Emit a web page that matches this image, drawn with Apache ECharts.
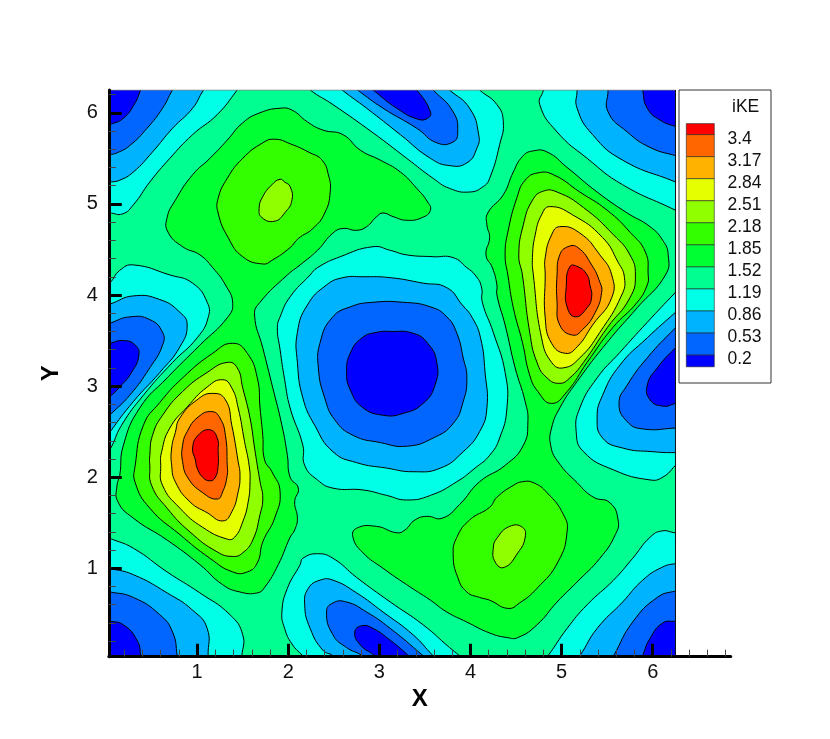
<!DOCTYPE html>
<html><head><meta charset="utf-8"><style>html,body{margin:0;background:#fff}#c{width:830px;height:739px}</style>
<script src="https://cdn.jsdelivr.net/npm/echarts@6/dist/echarts.min.js"></script></head><body><div id="c"></div>
<script>
const levelLabels=['0.2','0.53','0.86','1.19','1.52','1.85','2.18','2.51','2.84','3.17','3.4'];
const bandColors=['#0000ff','#0066ff','#00b3ff','#00ffe6','#00ff90','#00ff33','#33ff00','#90ff00','#e6ff00','#ffb300','#ff6600','#ff0000'];
const xMajor=[1,2,3,4,5,6];
const yMajor=[1,2,3,4,5,6];
const xMinor=[0.2,0.4,0.6,0.8,1.2,1.4,1.6,1.8,2.2,2.4,2.6,2.8,3.2,3.4,3.6,3.8,4.2,4.4,4.6,4.8,5.2,5.4,5.6,5.8,6.2,6.4,6.6,6.8];
const yMinor=[0.2,0.4,0.6,0.8,1.2,1.4,1.6,1.8,2.2,2.4,2.6,2.8,3.2,3.4,3.6,3.8,4.2,4.4,4.6,4.8,5.2,5.4,5.6,5.8,6.2];
const domain=[0.03,6.25];

const ridgeWest_152=[[1.91,6.05],[2.04,6.03],[2.21,5.90],[2.38,5.81],[2.60,5.76],[2.79,5.59],[3.01,5.48],[3.23,5.35],[3.41,5.17],[3.53,5.02],[3.56,4.93],[3.47,4.85],[3.30,4.82],[3.15,4.86],[3.04,4.90],[2.97,4.86],[2.86,4.75],[2.75,4.71],[2.60,4.73],[2.49,4.68],[2.32,4.49],[2.13,4.33],[1.99,4.22],[1.69,3.92],[1.63,3.78],[1.72,3.42],[1.83,2.98],[1.93,2.57],[1.99,2.24],[2.02,2.00],[2.11,1.88],[2.07,1.73],[2.10,1.55],[2.07,1.42],[2.02,1.34],[1.89,1.04],[1.74,0.79],[1.66,0.73],[1.47,0.74],[1.28,0.82],[1.03,1.04],[0.67,1.31],[0.30,1.55],[0.13,1.73],[0.12,1.91],[0.15,2.02],[0.19,2.35],[0.37,2.76],[0.67,3.09],[1.03,3.45],[1.33,3.75],[1.39,3.91],[1.31,4.11],[1.17,4.30],[1.03,4.44],[0.84,4.53],[0.68,4.69],[0.67,4.85],[0.76,5.04],[0.95,5.32],[1.14,5.50],[1.33,5.70],[1.50,5.89],[1.69,6.00]];
const ridgeEast_152=[[4.68,5.58],[4.84,5.57],[5.06,5.40],[5.39,5.13],[5.72,4.90],[5.97,4.75],[6.11,4.60],[6.17,4.44],[6.14,4.22],[5.83,3.86],[5.50,3.48],[5.17,3.05],[4.98,2.76],[4.89,2.54],[4.88,2.35],[4.96,2.17],[5.17,1.94],[5.35,1.78],[5.53,1.72],[5.62,1.53],[5.59,1.37],[5.42,1.11],[5.17,0.85],[4.95,0.63],[4.73,0.38],[4.52,0.24],[4.40,0.24],[4.21,0.29],[3.96,0.41],[3.74,0.52],[3.56,0.65],[3.30,0.82],[3.04,1.00],[2.82,1.17],[2.71,1.34],[2.75,1.44],[2.97,1.46],[3.19,1.39],[3.28,1.42],[3.39,1.53],[3.52,1.57],[3.69,1.55],[3.88,1.70],[4.10,1.95],[4.38,2.13],[4.58,2.35],[4.63,2.61],[4.60,2.83],[4.49,3.20],[4.38,3.67],[4.29,4.00],[4.29,4.11],[4.24,4.30],[4.17,4.44],[4.21,4.63],[4.18,4.77],[4.19,4.90],[4.36,5.10],[4.47,5.35],[4.57,5.52]];
const hillC_185=[[1.85,5.71],[2.02,5.66],[2.24,5.56],[2.37,5.48],[2.44,5.32],[2.46,5.13],[2.40,4.90],[2.27,4.73],[2.11,4.62],[2.02,4.52],[1.82,4.38],[1.72,4.34],[1.50,4.42],[1.34,4.63],[1.23,4.90],[1.23,5.06],[1.33,5.28],[1.50,5.50],[1.72,5.67]];
const hillC_218=[[1.91,5.27],[1.82,5.21],[1.72,5.08],[1.68,4.95],[1.71,4.85],[1.85,4.81],[1.96,4.90],[2.04,5.04],[2.02,5.19],[1.96,5.24]];
const hillA_185=[[1.39,3.47],[1.55,3.36],[1.66,3.09],[1.69,2.76],[1.72,2.46],[1.74,2.19],[1.82,2.06],[1.91,1.84],[1.85,1.55],[1.72,1.29],[1.66,1.06],[1.55,0.96],[1.39,0.96],[1.14,1.11],[0.81,1.37],[0.48,1.66],[0.32,1.94],[0.32,2.13],[0.41,2.57],[0.59,2.82],[0.84,3.09],[1.17,3.36]];
const hillA_218=[[1.33,3.26],[1.44,3.20],[1.50,2.98],[1.58,2.65],[1.63,2.32],[1.66,2.13],[1.69,1.95],[1.72,1.77],[1.69,1.59],[1.61,1.31],[1.50,1.17],[1.39,1.13],[1.22,1.18],[0.92,1.40],[0.67,1.66],[0.50,1.91],[0.48,2.13],[0.48,2.24],[0.51,2.46],[0.62,2.68],[0.84,2.94],[1.11,3.15]];
const hillA_251=[[1.28,3.07],[1.38,2.98],[1.45,2.76],[1.52,2.39],[1.57,2.13],[1.58,1.95],[1.56,1.73],[1.50,1.51],[1.41,1.34],[1.33,1.32],[1.06,1.45],[0.81,1.66],[0.62,1.91],[0.60,2.13],[0.61,2.28],[0.70,2.54],[0.89,2.77],[1.11,2.99]];
const hillA_284=[[1.17,2.92],[1.31,2.85],[1.38,2.57],[1.45,2.17],[1.47,2.02],[1.45,1.84],[1.38,1.62],[1.28,1.52],[1.11,1.61],[0.92,1.73],[0.76,1.95],[0.72,2.13],[0.72,2.32],[0.76,2.49],[0.81,2.65],[1.00,2.85]];
const hillA_317=[[1.16,2.72],[1.25,2.65],[1.31,2.46],[1.33,2.13],[1.33,2.02],[1.28,1.84],[1.22,1.76],[1.06,1.83],[0.90,1.99],[0.84,2.17],[0.84,2.35],[0.89,2.50],[1.01,2.66]];
const hillA_340=[[1.14,2.52],[1.22,2.43],[1.23,2.28],[1.23,2.13],[1.20,2.00],[1.14,1.96],[1.06,2.00],[1.00,2.10],[0.98,2.19],[0.95,2.32],[1.01,2.46]];
const hillE_185=[[4.57,1.95],[4.69,1.94],[4.84,1.83],[5.02,1.59],[5.06,1.40],[4.96,1.07],[4.73,0.78],[4.54,0.62],[4.41,0.56],[4.21,0.65],[4.10,0.68],[3.96,0.74],[3.86,0.90],[3.81,1.15],[3.85,1.34],[3.99,1.53],[4.21,1.67],[4.29,1.78],[4.47,1.91]];
const hillE_218=[[4.43,1.46],[4.57,1.45],[4.60,1.34],[4.52,1.17],[4.37,1.01],[4.27,1.07],[4.25,1.22],[4.29,1.33]];
const hillD_185=[[4.74,5.34],[4.91,5.32],[5.20,5.13],[5.50,4.93],[5.75,4.69],[5.92,4.47],[5.95,4.22],[5.94,4.11],[5.83,3.92],[5.56,3.64],[5.28,3.26],[5.06,2.94],[4.89,2.81],[4.74,2.94],[4.65,3.12],[4.57,3.48],[4.47,3.86],[4.41,4.22],[4.38,4.44],[4.41,4.69],[4.51,5.07],[4.60,5.26]];
const hillD_218=[[4.80,5.14],[4.95,5.13],[5.24,4.96],[5.57,4.66],[5.75,4.44],[5.81,4.22],[5.75,3.97],[5.50,3.64],[5.24,3.26],[5.09,3.09],[4.98,3.03],[4.84,3.09],[4.73,3.26],[4.65,3.59],[4.57,4.22],[4.53,4.44],[4.58,4.77],[4.68,5.04]];
const hillD_251=[[4.87,4.97],[5.12,4.88],[5.45,4.63],[5.62,4.36],[5.69,4.19],[5.66,4.00],[5.42,3.59],[5.20,3.31],[5.02,3.20],[4.89,3.26],[4.78,3.53],[4.69,4.22],[4.68,4.41],[4.71,4.66],[4.78,4.88]];
const hillD_284=[[4.98,4.75],[5.20,4.68],[5.42,4.44],[5.55,4.22],[5.55,3.97],[5.34,3.67],[5.17,3.43],[5.04,3.36],[4.89,3.47],[4.82,3.75],[4.82,4.22],[4.82,4.41],[4.89,4.66]];
const hillD_317=[[5.07,4.53],[5.18,4.52],[5.33,4.33],[5.42,4.14],[5.44,4.03],[5.37,3.81],[5.23,3.62],[5.12,3.56],[4.98,3.67],[4.95,3.92],[4.95,4.22],[4.98,4.44]];
const hillD_340=[[5.09,4.31],[5.18,4.31],[5.28,4.22],[5.31,4.11],[5.33,3.98],[5.28,3.86],[5.15,3.76],[5.06,3.87],[5.05,4.08]];

const center_119=[[1.88,3.64],[1.91,3.76],[2.02,3.98],[2.24,4.22],[2.32,4.30],[2.57,4.42],[2.93,4.53],[3.12,4.49],[3.30,4.44],[3.59,4.42],[3.81,4.41],[3.96,4.30],[4.05,4.22],[4.12,4.09],[4.13,3.92],[4.25,3.59],[4.38,3.15],[4.40,2.76],[4.32,2.43],[4.21,2.24],[4.05,2.10],[3.85,1.95],[3.56,1.80],[3.30,1.75],[3.08,1.80],[2.82,1.86],[2.49,1.88],[2.32,1.97],[2.18,2.13],[2.16,2.35],[2.02,2.76],[1.96,3.07],[1.91,3.40]];
const center_086=[[2.60,4.19],[2.81,4.20],[3.12,4.19],[3.48,4.13],[3.74,4.08],[3.91,3.89],[4.02,3.75],[4.11,3.53],[4.16,3.15],[4.18,2.76],[4.10,2.50],[3.92,2.28],[3.67,2.10],[3.37,2.06],[3.08,2.10],[2.75,2.16],[2.49,2.28],[2.29,2.57],[2.16,2.87],[2.10,3.26],[2.10,3.59],[2.21,3.89],[2.42,4.11]];
const center_053=[[2.68,3.87],[2.93,3.92],[3.26,3.92],[3.56,3.87],[3.74,3.76],[3.85,3.58],[3.92,3.31],[3.96,3.09],[3.92,2.83],[3.81,2.59],[3.59,2.43],[3.30,2.34],[3.01,2.38],[2.71,2.46],[2.51,2.63],[2.40,2.87],[2.33,3.20],[2.35,3.48],[2.48,3.75]];
const center_020=[[3.12,3.60],[3.37,3.58],[3.53,3.47],[3.63,3.26],[3.61,3.01],[3.48,2.81],[3.26,2.70],[3.04,2.68],[2.81,2.77],[2.68,2.96],[2.64,3.15],[2.68,3.36],[2.81,3.53],[2.97,3.59]];
const top_119=[[2.13,6.36],[2.24,6.25],[2.49,6.09],[2.93,5.78],[3.30,5.50],[3.59,5.28],[3.77,5.17],[3.99,5.13],[4.14,5.19],[4.21,5.28],[4.32,5.65],[4.36,5.90],[4.29,6.09],[4.10,6.25],[3.99,6.36]];
const top_086=[[2.46,6.36],[2.59,6.25],[2.86,6.05],[3.23,5.76],[3.56,5.50],[3.77,5.42],[3.96,5.45],[4.07,5.61],[4.09,5.76],[3.99,6.05],[3.77,6.25],[3.64,6.36]];
const top_053=[[2.62,6.36],[2.76,6.25],[3.04,6.05],[3.41,5.83],[3.63,5.67],[3.81,5.68],[3.86,5.79],[3.81,6.01],[3.59,6.25],[3.47,6.36]];
const top_020=[[2.79,6.36],[2.93,6.25],[3.19,6.05],[3.42,5.93],[3.53,5.94],[3.56,6.01],[3.41,6.25],[3.28,6.36]];
const bottom_119=[[1.99,0.78],[2.13,1.04],[2.16,1.11],[2.32,1.16],[2.49,1.11],[2.75,0.90],[3.12,0.63],[3.48,0.38],[3.77,0.13],[3.88,0.04],[3.99,-0.06],[2.27,-0.06],[2.16,0.04],[2.04,0.17],[1.96,0.34],[1.93,0.52]];
const bottom_086=[[2.18,0.60],[2.22,0.78],[2.35,0.87],[2.49,0.87],[2.75,0.73],[3.04,0.52],[3.37,0.27],[3.59,0.04],[3.70,-0.06],[2.57,-0.06],[2.49,0.04],[2.38,0.10],[2.24,0.34]];
const bottom_053=[[2.42,0.52],[2.49,0.62],[2.64,0.63],[2.86,0.52],[3.12,0.34],[3.48,0.04],[3.59,-0.06],[2.90,-0.06],[2.81,0.04],[2.64,0.13],[2.49,0.27]];
const bottom_020=[[2.73,0.30],[2.81,0.37],[2.93,0.34],[3.12,0.21],[3.31,0.05],[3.42,-0.06],[3.06,-0.06],[2.95,0.04],[2.79,0.16]];
const cornerTL_119=[[1.52,6.36],[1.44,6.25],[1.22,5.98],[0.95,5.76],[0.70,5.50],[0.48,5.24],[0.30,4.99],[0.18,4.89],[0.04,4.90],[-0.07,4.90],[-0.12,6.36]];
const cornerTL_086=[[1.16,6.36],[1.07,6.25],[0.95,6.05],[0.73,5.83],[0.51,5.57],[0.30,5.35],[0.15,5.26],[0.04,5.24],[-0.12,5.23],[-0.12,6.36]];
const cornerTL_053=[[0.81,6.36],[0.73,6.25],[0.62,6.05],[0.45,5.83],[0.26,5.64],[0.12,5.56],[0.04,5.54],[-0.12,5.51],[-0.12,6.36]];
const cornerTL_020=[[0.44,6.36],[0.38,6.25],[0.32,6.11],[0.19,5.94],[0.04,5.87],[-0.12,5.81],[-0.12,6.36]];
const left_119=[[0.04,4.13],[0.15,4.27],[0.30,4.33],[0.70,4.22],[0.95,4.13],[1.11,3.92],[1.12,3.75],[1.00,3.53],[0.73,3.26],[0.41,2.90],[0.17,2.57],[0.04,2.30],[-0.12,2.08],[-0.12,4.00]];
const left_086=[[-0.12,3.86],[0.04,3.90],[0.30,3.99],[0.59,3.95],[0.81,3.81],[0.89,3.67],[0.81,3.43],[0.59,3.15],[0.30,2.83],[0.04,2.49],[-0.12,2.24]];
const left_053=[[-0.12,3.64],[0.04,3.69],[0.26,3.76],[0.48,3.73],[0.62,3.59],[0.62,3.45],[0.48,3.20],[0.26,2.90],[0.04,2.68],[-0.12,2.52]];
const left_020=[[-0.12,3.44],[0.04,3.47],[0.19,3.50],[0.32,3.45],[0.36,3.34],[0.28,3.15],[0.15,2.99],[0.04,2.88],[-0.12,2.74]];
const right_119=[[6.25,4.03],[5.94,3.70],[5.64,3.37],[5.39,3.09],[5.20,2.76],[5.16,2.50],[5.24,2.28],[5.57,2.08],[5.97,1.97],[6.11,2.00],[6.25,2.13],[6.46,2.35],[6.46,4.25]];
const right_086=[[6.46,4.00],[6.25,3.81],[5.94,3.53],[5.64,3.23],[5.45,2.90],[5.39,2.65],[5.45,2.43],[5.67,2.32],[6.00,2.28],[6.25,2.27],[6.46,2.28]];
const right_053=[[6.46,3.84],[6.25,3.64],[5.94,3.31],[5.72,3.01],[5.63,2.81],[5.72,2.61],[5.89,2.53],[6.25,2.54],[6.46,2.56]];
const right_020=[[6.46,3.62],[6.25,3.42],[6.05,3.20],[5.94,3.01],[5.97,2.85],[6.11,2.78],[6.25,2.81],[6.46,2.87]];
const cornerTR_119=[[4.82,6.36],[4.80,6.25],[4.76,6.09],[4.95,5.79],[5.28,5.50],[5.67,5.21],[6.25,4.93],[6.46,4.82],[6.46,6.36]];
const cornerTR_086=[[5.17,6.36],[5.17,6.25],[5.17,6.05],[5.34,5.76],[5.67,5.48],[6.25,5.24],[6.46,5.15],[6.46,6.36]];
const cornerTR_053=[[5.51,6.36],[5.51,6.25],[5.51,6.01],[5.72,5.79],[5.97,5.62],[6.25,5.53],[6.46,5.48],[6.46,6.36]];
const cornerTR_020=[[5.88,6.36],[5.89,6.25],[5.94,6.05],[6.08,5.92],[6.25,5.85],[6.46,5.79],[6.46,6.36]];
const cornerBR_119=[[6.46,1.38],[6.25,1.39],[6.10,1.41],[5.97,1.34],[5.78,1.11],[5.57,0.87],[5.28,0.60],[5.06,0.34],[4.85,0.04],[4.76,-0.06],[6.46,-0.06]];
const cornerBR_086=[[6.46,1.06],[6.25,1.05],[6.10,1.01],[5.89,0.87],[5.67,0.63],[5.39,0.34],[5.20,0.04],[5.12,-0.06],[6.46,-0.06]];
const cornerBR_053=[[6.46,0.78],[6.25,0.75],[6.05,0.68],[5.78,0.41],[5.57,0.04],[5.51,-0.06],[6.46,-0.06]];
const cornerBR_020=[[6.46,0.45],[6.25,0.42],[6.11,0.40],[5.97,0.23],[5.89,0.04],[5.86,-0.06],[6.46,-0.06]];
const cornerBL_119=[[-0.12,1.40],[0.04,1.33],[0.30,1.22],[0.67,0.96],[1.03,0.73],[1.36,0.49],[1.50,0.27],[1.49,0.04],[1.47,-0.06],[-0.12,-0.06]];
const cornerBL_086=[[-0.12,1.04],[0.04,1.00],[0.30,0.93],[0.67,0.73],[0.95,0.54],[1.11,0.34],[1.12,0.04],[1.12,-0.06],[-0.12,-0.06]];
const cornerBL_053=[[-0.12,0.76],[0.04,0.74],[0.30,0.68],[0.59,0.49],[0.73,0.30],[0.78,0.04],[0.78,-0.06],[-0.12,-0.06]];
const cornerBL_020=[[-0.12,0.45],[0.04,0.42],[0.19,0.38],[0.34,0.21],[0.38,0.04],[0.38,-0.06],[-0.12,-0.06]];

// [outline, band index]  painted back to front
const contours=[
 [ridgeWest_152,5],[ridgeEast_152,5],
 [hillC_185,6],[hillA_185,6],[hillE_185,6],[hillD_185,6],
 [hillC_218,7],[hillA_218,7],[hillE_218,7],[hillD_218,7],
 [hillA_251,8],[hillD_251,8],[hillA_284,9],[hillD_284,9],
 [hillA_317,10],[hillD_317,10],[hillA_340,11],[hillD_340,11],
 [center_119,3],[top_119,3],[bottom_119,3],[cornerTL_119,3],[left_119,3],[right_119,3],[cornerTR_119,3],[cornerBR_119,3],[cornerBL_119,3],
 [center_086,2],[top_086,2],[bottom_086,2],[cornerTL_086,2],[left_086,2],[right_086,2],[cornerTR_086,2],[cornerBR_086,2],[cornerBL_086,2],
 [center_053,1],[top_053,1],[bottom_053,1],[cornerTL_053,1],[left_053,1],[right_053,1],[cornerTR_053,1],[cornerBR_053,1],[cornerBL_053,1],
 [center_020,0],[top_020,0],[bottom_020,0],[cornerTL_020,0],[left_020,0],[right_020,0],[cornerTR_020,0],[cornerBR_020,0],[cornerBL_020,0]
];

const FONT='"Liberation Sans", Arial, sans-serif';
const chart=echarts.init(document.getElementById('c'),null,{renderer:'canvas'});

function clipRect(api){
  const a=api.coord([domain[0],domain[1]]),b=api.coord([domain[1],domain[0]]);
  return {type:'rect',shape:{x:a[0],y:a[1],width:b[0]-a[0],height:b[1]-a[1]}};
}
const legendGraphics=[
 {type:'rect',left:678.5,top:89.5,shape:{width:92,height:293},style:{fill:'#fff',stroke:'#333',lineWidth:1},z:20},
 {type:'text',left:732,top:98.5,style:{text:'iKE',font:'17.5px '+FONT,fill:'#111'},z:21}
];
const rowH=22.05;
bandColors.slice().reverse().forEach((col,i)=>{
  const full=i>0&&i<bandColors.length-1;
  const y=i===0?123.3:134.3+(i-1)*rowH;
  const h=i===0?11:(full?rowH:11.7);
  legendGraphics.push({type:'rect',left:686,top:y,shape:{width:28,height:h},style:{fill:col,stroke:'#222',lineWidth:0.6},z:21});
});
levelLabels.slice().reverse().forEach((t,i)=>{
  legendGraphics.push({type:'text',left:727.5,top:130+i*rowH,style:{text:t,font:'17.5px '+FONT,fill:'#111'},z:21});
});

const axisName={fontFamily:FONT,fontWeight:'bold',fontSize:24,color:'#000'};
chart.setOption({
 animation:false,
 backgroundColor:'#fff',
 grid:{left:108.8,top:90,width:621.9,height:566.67},
 xAxis:[
  {type:'value',min:0.03,max:6.856,position:'bottom',z:10,splitLine:{show:false},name:'X',nameLocation:'middle',nameGap:27,nameTextStyle:axisName,
   axisLine:{show:true,onZero:false,lineStyle:{color:'#000',width:3}},
   axisTick:{show:true,inside:true,length:13,lineStyle:{color:'#000',width:3},customValues:xMajor},
   axisLabel:{show:true,customValues:xMajor,fontFamily:FONT,fontSize:20,color:'#111',margin:6,hideOverlap:false}},
  {type:'value',min:0.03,max:6.856,position:'bottom',z:10,splitLine:{show:false},
   axisLine:{show:false,onZero:false},axisLabel:{show:false},
   axisTick:{show:true,inside:true,length:7,lineStyle:{color:'#444',width:1},customValues:xMinor}}
 ],
 yAxis:[
  {type:'value',min:0.03,max:6.25,position:'left',z:10,splitLine:{show:false},name:'Y',nameLocation:'middle',nameGap:45,nameRotate:90,nameTextStyle:axisName,
   axisLine:{show:true,onZero:false,lineStyle:{color:'#000',width:3}},
   axisTick:{show:true,inside:true,length:13,lineStyle:{color:'#000',width:3},customValues:yMajor},
   axisLabel:{show:true,customValues:yMajor,fontFamily:FONT,fontSize:20,color:'#111',margin:11,padding:[3,0,0,0],hideOverlap:false}},
  {type:'value',min:0.03,max:6.25,position:'left',z:10,splitLine:{show:false},
   axisLine:{show:false,onZero:false},axisLabel:{show:false},
   axisTick:{show:true,inside:true,length:7,lineStyle:{color:'#444',width:1},customValues:yMinor}}
 ],
 graphic:legendGraphics,
 series:[
  {type:'custom',coordinateSystem:'cartesian2d',z:2,silent:true,clip:false,
   data:[[domain[0],domain[0]]],
   renderItem:(p,api)=>{
     const a=api.coord([domain[0],domain[1]]),b=api.coord([domain[1],domain[0]]);
     return {type:'rect',shape:{x:a[0],y:a[1],width:b[0]-a[0],height:b[1]-a[1]},style:{fill:bandColors[4]}};
   }},
  {type:'custom',coordinateSystem:'cartesian2d',z:3,silent:true,clip:false,
   data:contours.map((c,i)=>[c[0][0][0],c[0][0][1],i]),
   renderItem:(p,api)=>{
     const c=contours[p.dataIndex];
     return {type:'polygon',shape:{points:c[0].map(q=>api.coord(q)),smooth:0.5},
       style:{fill:bandColors[c[1]],stroke:'#000',lineWidth:1},clipPath:clipRect(api)};
   }},
  {type:'line',z:5,silent:true,symbol:'none',lineStyle:{color:'#808080',width:1},data:[[domain[0],domain[1]],[domain[1],domain[1]]]},
  {type:'line',z:5,silent:true,symbol:'none',lineStyle:{color:'#111',width:1},data:[[domain[1],domain[1]],[domain[1],domain[0]]]}
 ]
});
</script></body></html>
